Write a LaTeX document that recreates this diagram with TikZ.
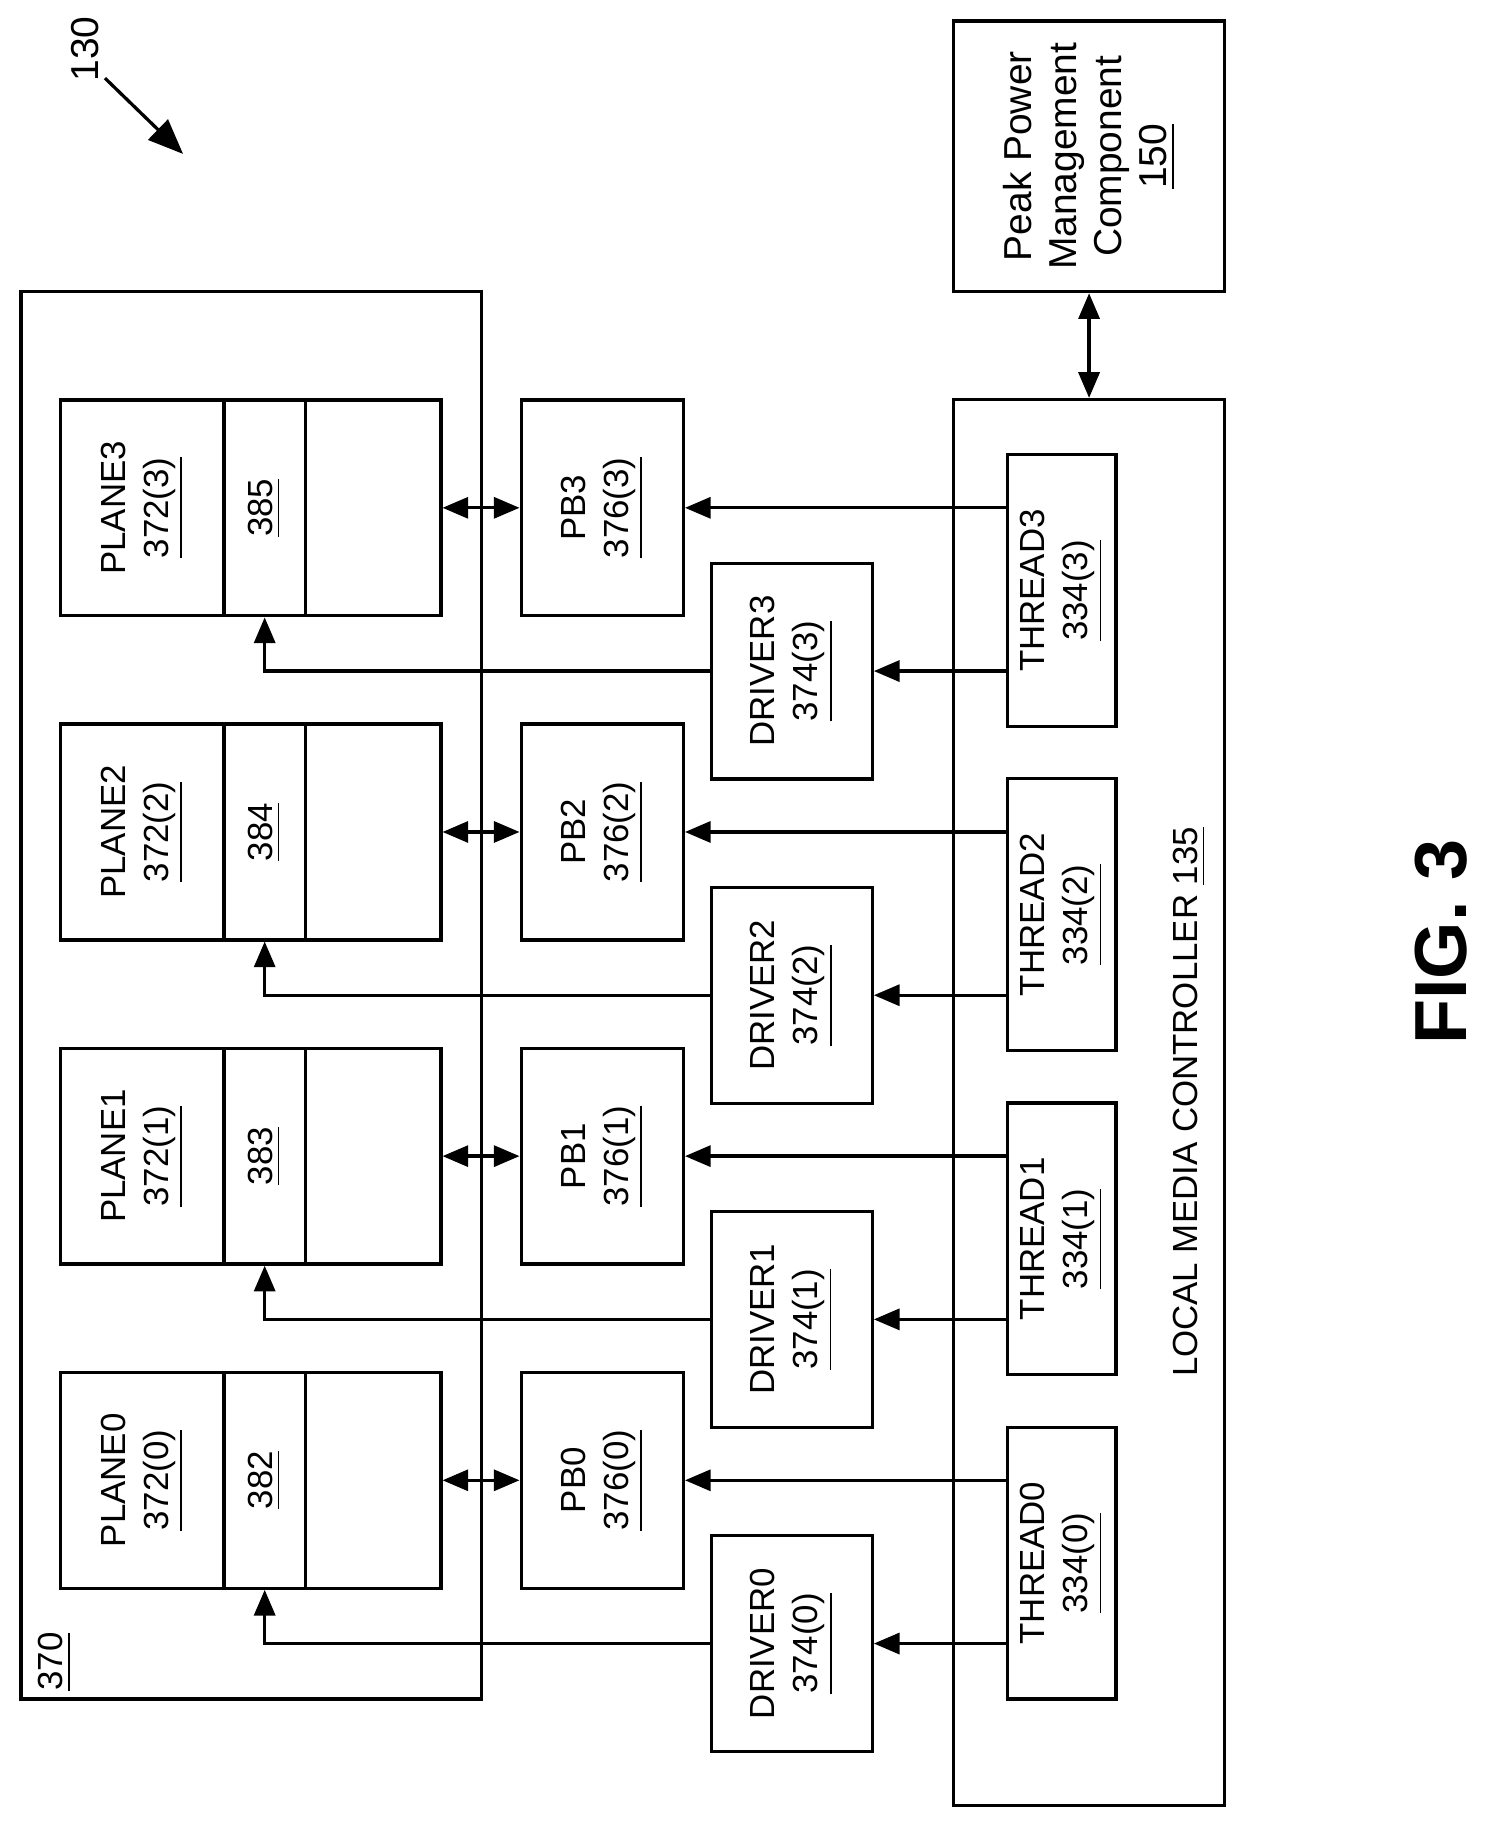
\documentclass[tikz,border=0pt]{standalone}
\usepackage{fontspec}
\setmainfont{Liberation Sans}
\usetikzlibrary{arrows.meta}
\tikzset{
  box/.style={draw,line width=0.8pt,inner sep=0pt},
  txt/.style={rotate=90,align=center,font=\fontsize{8.5}{10.5}\selectfont},
  arr/.style={line width=0.8pt,-{Triangle[length=2.2mm,width=1.8mm]}},
  darr/.style={line width=0.8pt,{Triangle[length=2.2mm,width=1.8mm]}-{Triangle[length=2.2mm,width=1.8mm]}}
}
\begin{document}
\begin{tikzpicture}[x=0.01cm,y=-0.01cm]
\useasboundingbox (0,0) rectangle (1276,1566);
% memory device 370
\draw[line width=0.8pt] (18,250) rectangle (413,1457);
\node[txt] (lbl370) at (47,1425) {\underline{370}};
% local media controller and peak power component
\node[box,minimum width=2.32cm,minimum height=12.05cm] (lmc) at (934,945.5) {};
\node[txt] (lmclbl) at (1020,945) {LOCAL MEDIA CONTROLLER \underline{135}};
\node[box,minimum width=2.32cm,minimum height=2.32cm] (ppm) at (934,134) {};
\node[txt,font=\fontsize{9.5}{11}\selectfont] (ppmlbl) at (ppm) {Peak Power\\Management\\Component\\\underline{150}};
\draw[darr] (ppm.south) -- (lmc.north -| ppm.south);
% reference 130
\node[txt,font=\fontsize{9.5}{11}\selectfont] (lbl130) at (73,42) {130};
\coordinate (p130) at (157,132);
\draw[line width=0.8pt,-{Triangle[length=3mm,width=2.4mm]}] (90,67) -- (p130);
% planes, page buffers, drivers, threads
\foreach \i/\n in {0/382,1/383,2/384,3/385}{
  \pgfmathsetmacro{\yc}{1269.5-278*\i}
  \node[box,minimum width=3.26cm,minimum height=1.85cm] (plane\i) at (215,\yc) {};
  \draw[line width=0.8pt] (192,\yc-92.5) -- (192,\yc+92.5) (262,\yc-92.5) -- (262,\yc+92.5);
  \node[txt] (plbl\i) at (122,\yc) {PLANE\i\\\underline{372(\i)}};
  \node[txt] (num\i) at (227,\yc) {\underline{\n}};
  \node[box,minimum width=1.39cm,minimum height=1.85cm] (pb\i) at (516.5,\yc) {};
  \node[txt] at (pb\i) {PB\i\\\underline{376(\i)}};
  \node[box,minimum width=1.38cm,minimum height=1.85cm] (drv\i) at (679,\yc+140) {};
  \node[txt] at (drv\i) {DRIVER\i\\\underline{374(\i)}};
  \node[box,minimum width=0.93cm,minimum height=2.33cm] (thr\i) at (910.5,\yc+71) {};
  \node[txt] at (thr\i) {THREAD\i\\\underline{334(\i)}};
  \draw[darr] (plane\i.east) -- (pb\i.west);
  \draw[arr] (thr\i.west |- pb\i) -- (pb\i.east);
  \draw[arr] (thr\i.west |- drv\i) -- (drv\i.east);
  \draw[arr] (drv\i.west) -| (num\i |- plane\i.south);
}
\node[rotate=90,font=\bfseries\fontsize{18}{22}\selectfont] (fig) at (1236,808) {FIG. 3};
\end{tikzpicture}
\end{document}
